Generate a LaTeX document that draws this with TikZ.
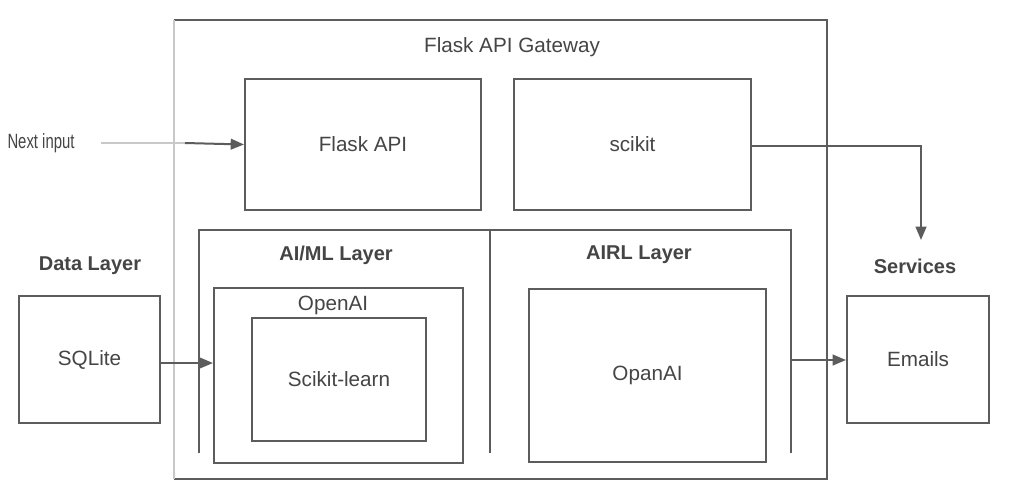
\documentclass[tikz,border=0pt]{standalone}
\usepackage{fontspec}
\setmainfont{Liberation Sans}
\usetikzlibrary{arrows.meta,calc}
\definecolor{ln}{HTML}{5C5C5C}
\definecolor{tx}{HTML}{454545}
\definecolor{faint}{HTML}{C8C8C8}
\tikzset{
  frame/.style={draw=ln,line width=1.5pt,fill=none},
  box/.style={draw=ln,line width=1.5pt,rectangle,inner sep=0pt,text=tx,font=\fontsize{15.5}{18}\selectfont},
  lbl/.style={text=tx,inner sep=0pt,font=\fontsize{15.5}{18}\selectfont},
  blbl/.style={text=tx,inner sep=0pt,font=\fontsize{15}{18}\selectfont\bfseries},
  conn/.style={draw=ln,line width=1.5pt,-{Triangle[length=10pt,width=8pt]}},
}
\begin{document}
\begin{tikzpicture}[x=0.75pt,y=-0.75pt]
\useasboundingbox (0,0) rectangle (1019,501);
\fill[white] (0,0) rectangle (1019,501);
% gateway frame
\coordinate (gtl) at (174,20);
\coordinate (gbr) at (827,479);
\draw[ln,line width=1.5pt] (gtl) -- (gbr |- gtl) -- (gbr) -- (gtl |- gbr);
\draw[faint,line width=0.8pt] (gtl) -- (gtl |- gbr);
\node[lbl] (gwlabel) at (512,47) {Flask API Gateway};
% top boxes
\node[box,minimum width=236*0.75pt,minimum height=131*0.75pt] (flask) at (363,144.5) {Flask API};
\node[box,minimum width=237*0.75pt,minimum height=131*0.75pt] (scikit) at (632.5,144.5) {scikit};
% layers frames (open bottom)
\coordinate (aml) at (199,453);
\coordinate (amt) at (199,230);
\coordinate (mid) at (490,230);
\coordinate (midb) at (490,453);
\coordinate (art) at (791,230);
\coordinate (arb) at (791,453);
\draw[frame] (aml) -- (amt) -- (art) -- (arb);
\draw[frame] (mid) -- (midb);
\node[blbl] (aimllabel) at (336,255) {AI/ML Layer};
\node[blbl] (airllabel) at (639,255) {AIRL Layer};
% AI/ML inner
\node[box,minimum width=249*0.75pt,minimum height=175*0.75pt] (openai) at (338.5,375.5) {};
\node[lbl] (openailabel) at (333,305) {OpenAI};
\node[box,minimum width=174*0.75pt,minimum height=123*0.75pt] (sklearn) at (339,379.5) {Scikit-learn};
% AIRL inner
\node[box,minimum width=237*0.75pt,minimum height=173*0.75pt] (opanai) at (647.5,375.5) {OpanAI};
% Data layer
\node[blbl] (datalabel) at (90,266) {Data Layer};
\node[box,minimum width=141*0.75pt,minimum height=127*0.75pt] (sqlite) at (89.5,359.5) {SQLite};
% Services
\node[blbl] (servlabel) at (915,266) {Services};
\node[box,minimum width=142*0.75pt,minimum height=127*0.75pt] (emails) at (918,359.5) {Emails};
% Next input
\node[lbl] (next) at (41,143) {\scalebox{0.72}[1]{Next input}};
% connectors
\coordinate (nextmid) at (185,143);
\draw[faint,line width=1pt] (next.east) ++(26,0) -- (nextmid);
\draw[conn] (nextmid) -- (flask.west);
\draw[conn] (sqlite.east |- 0,363) -- (openai.west |- 0,363);
\coordinate (turn) at (921,146);
\coordinate (servin) at (921,240);
\draw[conn] (scikit.east |- turn) -- (turn) -- (servin);
\coordinate (airlout) at (791,360);
\draw[conn] (airlout) -- (emails.west |- airlout);
\end{tikzpicture}
\end{document}
